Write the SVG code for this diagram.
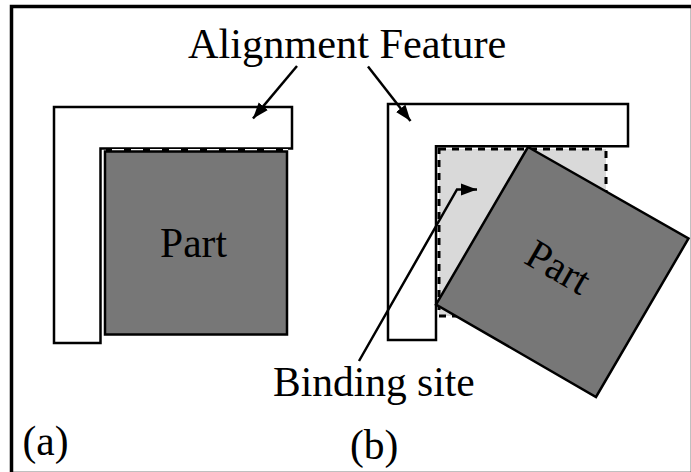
<svg xmlns="http://www.w3.org/2000/svg" width="691" height="472" viewBox="0 0 691 472">
<style>
.lbl{font-family:"Liberation Serif","Times New Roman",serif;font-size:41.5px;fill:#000}
.outline{stroke:#000;stroke-width:2.5;fill:#fff}
.part{fill:#777;stroke:#000;stroke-width:2.5}
.site{fill:#d9d9d9;stroke:#000;stroke-width:3;stroke-dasharray:7 6}
.conn{fill:none;stroke:#000;stroke-width:2.5}
</style>
<defs>
<marker id="ah" markerUnits="userSpaceOnUse" markerWidth="17" markerHeight="13" refX="16" refY="6.5" orient="auto">
<path d="M0,0.5 L16,6.5 L0,12.5 z" fill="#000"/>
</marker>
</defs>
<rect id="frame" x="11.5" y="6.5" width="681" height="467" fill="#fff" stroke="#000" stroke-width="3.5"/>
<g id="feature-a">
<path class="outline" d="M54,107 H292 V148.5 H100.5 V343 H54 Z"/>
</g>
<g id="part-a">
<rect class="part" x="105" y="151.5" width="182" height="183"/>
<text class="lbl" x="193.5" y="256.5" text-anchor="middle">Part</text>
</g>
<g id="site-a">
<line x1="106" y1="149.7" x2="288" y2="149.7" stroke="#000" stroke-width="3"/>
<line x1="112" y1="149.7" x2="288" y2="149.7" stroke="#fff" stroke-width="1.2" stroke-dasharray="12 7"/>
</g>
<g id="feature-b">
<path class="outline" d="M388,104 H628 V146.3 H436 V340 H388 Z"/>
</g>
<g id="site-b">
<rect class="site" x="439" y="149" width="167" height="167"/>
</g>
<g id="part-b">
<polygon class="part" points="528,147 688.5,238.5 596,397 436,304.5"/>
<text class="lbl" text-anchor="middle" transform="translate(551.5,279) rotate(30)">Part</text>
</g>
<g id="connectors">
<line class="conn" x1="297" y1="66" x2="253" y2="118.5" marker-end="url(#ah)"/>
<line class="conn" x1="368" y1="66.5" x2="410.5" y2="121" marker-end="url(#ah)"/>
<polyline class="conn" points="359,361 457,189.5 477,189.5" marker-end="url(#ah)"/>
</g>
<g id="labels">
<text class="lbl" x="188" y="58" style="font-size:42.3px">Alignment Feature</text>
<text class="lbl" x="273" y="396">Binding site</text>
<text class="lbl" x="22.5" y="455">(a)</text>
<text class="lbl" x="350" y="459">(b)</text>
</g>
</svg>
